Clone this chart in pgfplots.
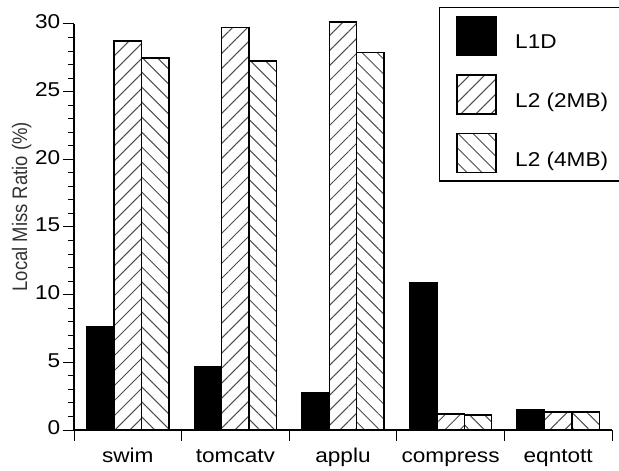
\documentclass[border=0pt]{standalone}
\usepackage{fontspec}
\setmainfont{Liberation Sans}[FakeStretch=1.13]
\newfontfamily\labelfont{Liberation Sans}[FakeStretch=0.88]
\usepackage{pgfplots}
\pgfplotsset{compat=1.18}
\usetikzlibrary{patterns.meta}
\pgfplotsset{my bar legend/.style={legend image code/.code={\draw[##1] (0pt,-6.1pt) rectangle (19.5pt,13.4pt);}}}
\begin{document}
\fontsize{10}{12}\selectfont
\begin{tikzpicture}
\useasboundingbox (-37pt,-20pt) rectangle (272.5pt,215pt);
\begin{axis}[
  at={(0pt,0pt)}, anchor=south west,
  scale only axis, width=269pt, height=203pt,
  xmin=-0.5, xmax=4.5, ymin=0, ymax=30,
  axis x line*=bottom, axis y line*=left,
  axis line style={line width=0.6pt},
  ybar=0pt, bar width=13.7pt,
  xtick={-0.5,0.5,1.5,2.5,3.5,4.5},
  x tick label as interval,
  xticklabels={swim,tomcatv,applu,compress,eqntott},
  typeset ticklabels with strut,
  xticklabel style={inner ysep=2pt},
  ytick={0,5,...,30}, minor y tick num=4,
  tick align=outside, major tick length=5.5pt, minor tick length=3pt,
  tick style={black, line width=0.5pt},
  yticklabel style={inner xsep=1.2pt},
  /pgf/number format/assume math mode=true,
  ylabel={\labelfont\fontsize{10.5}{12.5}\selectfont Local Miss Ratio (\%)},
  ylabel style={at={(axis description cs:-0.0974,0.55)}, anchor=center, text=black!80},
  clip=false,
  legend style={at={(axis description cs:0.6784,1.0419)}, anchor=north west,
    draw=black, line width=0.75pt, inner xsep=8.3pt, inner ysep=4pt, row sep=9pt,
    nodes={inner sep=0pt},
    /tikz/every odd column/.append style={column sep=9.2pt}},
  legend cell align=left,
]
\addplot[draw=black, fill=black, line width=0.75pt, my bar legend]
  coordinates {(0,7.6) (1,4.66) (2,2.73) (3,10.86) (4,1.48)};
\addplot[draw=black, line width=0.75pt, pattern={Lines[angle=45,distance=5.3pt,line width=0.5pt]}, pattern color=black!70, my bar legend]
  coordinates {(0,28.75) (1,29.73) (2,30.13) (3,1.18) (4,1.33)};
\addplot[draw=black, line width=0.75pt, pattern={Lines[angle=-45,distance=5.3pt,line width=0.5pt]}, pattern color=black!70, my bar legend]
  coordinates {(0,27.47) (1,27.27) (2,27.88) (3,1.09) (4,1.33)};
\addlegendentry{L1D}
\addlegendentry{L2 (2MB)}
\addlegendentry{L2 (4MB)}
\end{axis}
\end{tikzpicture}
\end{document}
